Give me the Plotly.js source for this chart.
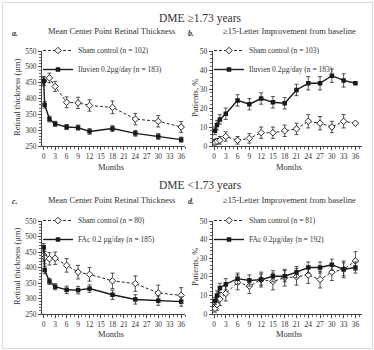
<!DOCTYPE html>
<html>
<head>
<meta charset="utf-8">
<script src="https://cdn.plot.ly/plotly-3.0.1.min.js"></script>
<style>
html,body{margin:0;padding:0;background:#fff;}
#wrap{position:relative;width:374px;height:350px;}
#chart{width:374px;height:350px;}
#frame{position:absolute;left:2px;top:2px;width:369px;height:345px;border:1px solid #dcdcdc;pointer-events:none;}
</style>
</head>
<body>
<div id="wrap"><div id="chart"></div><div id="frame"></div></div>
<script>
// ---- Panel a: Mean center point retinal thickness, DME >=1.73 years ----
var monthsA_drug = [0, 0.25, 1.5, 3, 6, 9, 12, 18, 24, 30, 36];
var thickA_drug  = [455, 380, 335, 320, 310, 308, 296, 305, 290, 280, 270];
var errA_drug    = [12, 10, 9, 8, 8, 8, 9, 9, 9, 9, 8];
var monthsA_sham = [0, 1.5, 3, 6, 9, 12, 18, 24, 30, 36];
var thickA_sham  = [455, 465, 438, 388, 386, 378, 372, 335, 328, 310];
var errA_sham    = [15, 15, 16, 17, 18, 18, 20, 18, 18, 17];

// ---- Panel b: >=15-letter improvement, DME >=1.73 years ----
var monthsB      = [0.25, 0.75, 1.5, 3, 6, 9, 12, 15, 18, 21, 24, 27, 30, 33, 36];
var pctB_drug    = [8, 11, 14, 17, 24, 22, 25, 23, 22.5, 29.5, 33, 33, 37, 34.5, 33];
var errB_drug    = [2, 2.5, 2.5, 3, 3, 3, 3, 3, 3, 3, 3.5, 3.5, 3.5, 3.5, 0];
var pctB_sham    = [2, 2.5, 3, 5, 3, 4, 7, 7, 8, 9, 13, 12, 10, 13, 12];
var errB_sham    = [1.5, 1.5, 2, 2.5, 2, 2.5, 3, 3, 3, 3, 3.5, 3.5, 3, 3.5, 0];

// ---- Panel c: Mean center point retinal thickness, DME <1.73 years ----
var monthsC_drug = [0, 0.25, 1.5, 3, 6, 9, 12, 18, 24, 30, 36];
var thickC_drug  = [465, 392, 355, 338, 328, 327, 332, 312, 297, 293, 290];
var errC_drug    = [12, 12, 10, 10, 12, 12, 12, 15, 15, 15, 15];
var monthsC_sham = [0, 0.25, 1.5, 3, 6, 9, 12, 18, 24, 30, 36];
var thickC_sham  = [440, 432, 428, 430, 407, 385, 378, 357, 348, 318, 310];
var errC_sham    = [20, 20, 20, 20, 22, 22, 22, 25, 25, 25, 25];

// ---- Panel d: >=15-letter improvement, DME <1.73 years ----
var monthsD      = [0.25, 0.75, 1.5, 3, 6, 9, 12, 15, 18, 21, 24, 27, 30, 33, 36];
var pctD_drug    = [7, 10, 14, 16, 19, 18, 18.5, 20.3, 20.3, 22.5, 25, 25, 26.5, 24, 25];
var errD_drug    = [2, 2.5, 2.5, 3, 3, 3, 3, 3, 3, 3, 3, 3, 3, 3.5, 3];
var pctD_sham    = [3, 5, 8, 11, 17, 15, 18.5, 17.5, 19.5, 20, 21, 18.5, 22.5, 24, 28.5];
var errD_sham    = [2, 3, 3.5, 4, 4, 4, 4, 4.5, 4.5, 4.5, 4.5, 4.5, 4.5, 4.5, 5];

// ---- Labels ----
var monthTicks = [0, 3, 6, 9, 12, 15, 18, 21, 24, 27, 30, 33, 36];
var thickTicks = [250, 300, 350, 400, 450, 500, 550];
var pctTicks   = [0, 10, 20, 30, 40, 50];
var legA = ["Sham control (n = 102)", "Iluvien 0.2µg/day (n = 183)"];
var legB = ["Sham control (n = 103)", "Iluvien 0.2µg/day (n = 183)"];
var legC = ["Sham control (n = 80)", "FAc 0.2 µg/day (n = 185)"];
var legD = ["Sham control (n = 81)", "FAc 0.2µg/day (n = 192)"];

var W = 374, H = 350;
var FONT = "Liberation Serif, Times New Roman, serif";
var INK = "#2a2a2a";
function px(x){return x / W;}
function py(y){return 1 - y / H;}

function shamTrace(x, y, e, name, ax, leg){
  return {x:x, y:y, name:name, type:"scatter", mode:"lines+markers",
    xaxis:"x"+ax, yaxis:"y"+ax, legend:leg,
    line:{color:INK, width:1, dash:"3px,2px"},
    marker:{symbol:"diamond", size:5, color:"#fff", line:{color:INK, width:1}},
    error_y:{type:"data", array:e, visible:true, color:INK, thickness:0.8, width:2}};
}
function drugTrace(x, y, e, name, ax, leg){
  return {x:x, y:y, name:name, type:"scatter", mode:"lines+markers",
    xaxis:"x"+ax, yaxis:"y"+ax, legend:leg,
    line:{color:"#1a1a1a", width:1.4},
    marker:{symbol:"square", size:4.5, color:"#1a1a1a"},
    error_y:{type:"data", array:e, visible:true, color:INK, thickness:0.8, width:2}};
}

var data = [
  shamTrace(monthsA_sham, thickA_sham, errA_sham, legA[0], "", "legend"),
  drugTrace(monthsA_drug, thickA_drug, errA_drug, legA[1], "", "legend"),
  shamTrace(monthsB, pctB_sham, errB_sham, legB[0], "2", "legend2"),
  drugTrace(monthsB, pctB_drug, errB_drug, legB[1], "2", "legend2"),
  shamTrace(monthsC_sham, thickC_sham, errC_sham, legC[0], "3", "legend3"),
  drugTrace(monthsC_drug, thickC_drug, errC_drug, legC[1], "3", "legend3"),
  shamTrace(monthsD, pctD_sham, errD_sham, legD[0], "4", "legend4"),
  drugTrace(monthsD, pctD_drug, errD_drug, legD[1], "4", "legend4")
];

var tickFont = {family:FONT, size:7.5, color:"#333"};
function xax(domain, range, anchor){
  return {domain:domain, range:range, anchor:anchor, tickvals:monthTicks,
    showline:true, linecolor:"#444", linewidth:1, ticks:"outside", ticklen:3,
    tickcolor:"#444", tickwidth:1, showgrid:false, zeroline:false, tickfont:tickFont,
    minor:{dtick:1, tick0:0, ticks:"outside", ticklen:2, tickcolor:"#666", tickwidth:1, showgrid:false}};
}
function yax(domain, range, ticks, minorD, anchor){
  return {domain:domain, range:range, anchor:anchor, tickvals:ticks,
    showline:true, linecolor:"#444", linewidth:1, ticks:"outside", ticklen:3,
    tickcolor:"#444", tickwidth:1, showgrid:false, zeroline:false, tickfont:tickFont,
    minor:{dtick:minorD, tick0:0, ticks:"outside", ticklen:2, tickcolor:"#666", tickwidth:1, showgrid:false}};
}
var xLeft = [px(42), px(185)], xRight = [px(212.7), px(361.7)];
var yTop = [py(146), py(51)], yBot = [py(314), py(221)];

function legendAt(x, y){
  return {x:px(x), y:py(y), xanchor:"left", yanchor:"top", bgcolor:"rgba(0,0,0,0)",
    font:{family:FONT, size:7.5, color:"#333"}, itemwidth:30, borderwidth:0};
}

function ann(text, x, y, size, extra){
  var a = {text:text, x:px(x), y:py(y), xref:"paper", yref:"paper", showarrow:false,
    xanchor:"center", yanchor:"middle", font:{family:FONT, size:size, color:"#333"}};
  for (var k in (extra||{})) a[k] = extra[k];
  return a;
}

var layout = {
  width:W, height:H, margin:{l:0, r:0, t:0, b:0},
  paper_bgcolor:"#fff", plot_bgcolor:"rgba(0,0,0,0)",
  showlegend:true,
  xaxis:  xax(xLeft,  [-0.45, 37], "y"),
  yaxis:  yax(yTop, [250, 550], thickTicks, 10, "x"),
  xaxis2: xax(xRight, [-0.33, 37.6], "y2"),
  yaxis2: yax(yTop, [0, 50], pctTicks, 2, "x2"),
  xaxis3: xax(xLeft,  [-0.45, 37], "y3"),
  yaxis3: yax(yBot, [250, 550], thickTicks, 10, "x3"),
  xaxis4: xax(xRight, [-0.33, 37.6], "y4"),
  yaxis4: yax(yBot, [0, 50], pctTicks, 2, "x4"),
  legend:  legendAt(38, 36),
  legend2: legendAt(209, 36),
  legend3: legendAt(38, 206),
  legend4: legendAt(209, 206),
  annotations:[
    ann("DME ≥1.73 years", 200, 19, 11.5),
    ann("DME <1.73 years", 200, 185, 11.5),
    ann("<i><b>a.</b></i>", 15, 33, 8),
    ann("<i><b>b.</b></i>", 191, 33, 8),
    ann("<i><b>c.</b></i>", 15, 201, 8),
    ann("<i><b>d.</b></i>", 191, 201, 8),
    ann("Mean Center Point Retinal Thickness", 111, 31, 8.5),
    ann("≥15-Letter Improvement from baseline", 289, 31, 8.5),
    ann("Mean Center Point Retinal Thickness", 111, 200, 8.5),
    ann("≥15-Letter Improvement from baseline", 289, 200, 8.5),
    ann("Retinal thickness (μm)", 17, 98, 8.5, {textangle:-90}),
    ann("Retinal thickness (μm)", 17, 267, 8.5, {textangle:-90}),
    ann("Patients, %", 195, 98, 8.5, {textangle:-90}),
    ann("Patients, %", 195, 267, 8.5, {textangle:-90}),
    ann("Months", 111, 167, 8.5),
    ann("Months", 289, 167, 8.5),
    ann("Months", 111, 334, 8.5),
    ann("Months", 289, 334, 8.5)
  ]
};

Plotly.newPlot("chart", data, layout, {displayModeBar:false, staticPlot:true});
</script>
</body>
</html>
